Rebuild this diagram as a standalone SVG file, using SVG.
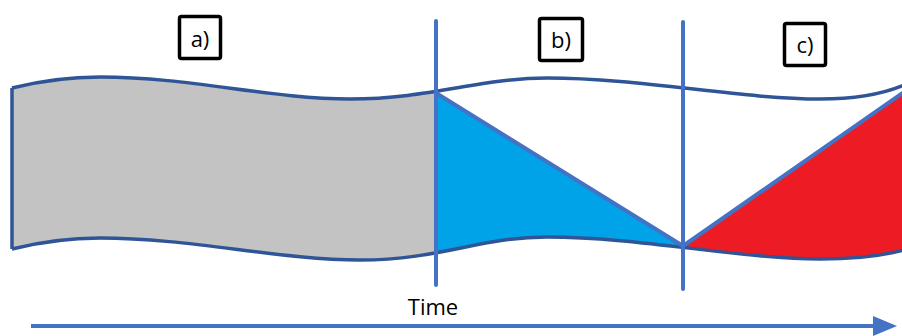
<svg xmlns="http://www.w3.org/2000/svg" width="902" height="336" viewBox="0 0 902 336">
<style>
.wave{fill:none;stroke:#2F5597;stroke-width:3.5;stroke-linejoin:round}
.vline{stroke:#4472C4;stroke-width:4;stroke-linecap:round}
.diag{stroke:#4472C4;stroke-width:4;stroke-linecap:round}
.box{fill:#fff;stroke:#000;stroke-width:3.5}
.lbl{font-family:"Open Sans","Noto Sans","Liberation Sans",sans-serif;font-size:22px;fill:#000;text-anchor:middle}
</style>
<defs>
<path id="ribbon" d="M12,88 C40,81 70,77 100,77 C190,77 270,99 350,99 C430,99 480,78 547,78 C640,78 740,99 820,99 C860,99 885,93 904,85 L904,250 C885,255 860,259 820,259 C740,259 640,237 547,237 C480,237 440,260 360,260 C280,260 190,238 100,238 C70,238 40,242 12,249 Z"/>
<clipPath id="clipA"><rect x="0" y="0" width="436" height="336"/></clipPath>
<clipPath id="clipB"><polygon points="436,93 683,246 683,336 436,336"/></clipPath>
<clipPath id="clipC"><polygon points="683,246 902,93 910,93 910,336 683,336"/></clipPath>
<marker id="arr" markerWidth="6" markerHeight="5" refX="0" refY="2.5" orient="auto" markerUnits="strokeWidth"><polygon points="0,0 6,2.5 0,5" fill="#4472C4"/></marker>
</defs>
<g id="region-a"><use href="#ribbon" fill="#C3C3C3" clip-path="url(#clipA)"/></g>
<g id="region-b"><use href="#ribbon" fill="#00A2E8" clip-path="url(#clipB)"/></g>
<g id="region-c"><use href="#ribbon" fill="#ED1C24" clip-path="url(#clipC)"/></g>
<g id="outline">
<path class="wave" d="M12,88 C40,81 70,77 100,77 C190,77 270,99 350,99 C430,99 480,78 547,78 C640,78 740,99 820,99 C860,99 885,93 904,85"/>
<path class="wave" d="M12,249 C40,242 70,238 100,238 C190,238 280,260 360,260 C440,260 480,237 547,237 C640,237 740,259 820,259 C860,259 885,255 904,250"/>
<line class="wave" x1="12" y1="88" x2="12" y2="249"/>
</g>
<g id="connectors">
<line class="diag" x1="436" y1="93" x2="683" y2="246"/>
<line class="diag" x1="683" y1="246" x2="904" y2="92"/>
<line class="vline" x1="436" y1="21" x2="436" y2="285"/>
<line class="vline" x1="683" y1="22" x2="683" y2="289"/>
<line x1="31" y1="326" x2="873" y2="326" stroke="#4472C4" stroke-width="4" marker-end="url(#arr)"/>
</g>
<g id="label-a"><rect class="box" x="179.5" y="16.5" width="41" height="42" rx="2"/><text class="lbl" x="200" y="47">a)</text></g>
<g id="label-b"><rect class="box" x="539.5" y="18.5" width="43" height="42" rx="2"/><text class="lbl" x="561" y="48">b)</text></g>
<g id="label-c"><rect class="box" x="784.5" y="23.5" width="41" height="42" rx="2"/><text class="lbl" x="805" y="53">c)</text></g>
<g id="time-label"><text class="lbl" x="433" y="315">Time</text></g>
</svg>
